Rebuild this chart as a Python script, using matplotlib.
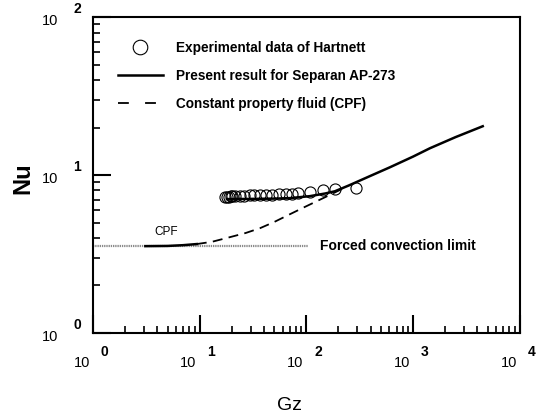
import matplotlib
matplotlib.use('Agg')
import matplotlib.pyplot as plt
from matplotlib.ticker import LogLocator, NullFormatter
from matplotlib.lines import Line2D

# experimental data (Hartnett)
exp_gz = [17.3, 18.0, 18.7, 19.5, 20.3, 21.3, 23.7, 26.3, 29.5, 32.5, 36.6,
          41.7, 47.6, 55.4, 64.3, 73.3, 83.4, 108, 142, 185, 290]
exp_nu = [7.3, 7.3, 7.32, 7.34, 7.36, 7.38, 7.4, 7.42, 7.44, 7.46, 7.48,
          7.5, 7.52, 7.55, 7.58, 7.62, 7.66, 7.8, 8.0, 8.15, 8.27]

# present result for Separan AP-273
sep_gz = [18, 30, 50, 70, 108, 150, 185, 250, 400, 605, 1000, 1440, 2500, 4500]
sep_nu = [7.05, 7.07, 7.1, 7.15, 7.36, 7.65, 7.9, 8.6, 9.9, 11.2, 13.1, 14.8, 17.4, 20.4]

# constant property fluid
cpf_gz = [3.1, 5.0, 7.0, 9.4, 13, 18, 27, 37, 50, 70, 95, 126, 170, 230]
cpf_nu = [3.55, 3.56, 3.6, 3.66, 3.78, 4.0, 4.3, 4.62, 5.05, 5.65, 6.25, 6.85, 7.55, 8.35]
cpf_solid_n = 4

# forced convection limit
fcl_gz = [1.0, 103]
fcl_nu = [3.55, 3.55]

dec_x = [0, 1, 2, 3, 4]
dec_y = [0, 1, 2]

font = 'Liberation Sans'

fig = plt.figure(figsize=(5.5, 4.18), dpi=100)
ax = fig.add_axes([0.169, 0.2033, 0.776, 0.7555])

ax.plot(fcl_gz, fcl_nu, color='#8a8a8a', lw=1.6, linestyle=(0, (0.6, 0.4)), zorder=1)
ax.plot(cpf_gz[:cpf_solid_n], cpf_nu[:cpf_solid_n], color='black', lw=1.8, zorder=2)
ax.plot(cpf_gz[cpf_solid_n - 1:], cpf_nu[cpf_solid_n - 1:], color='black', lw=1.3,
        dashes=(5.5, 3.5), zorder=2)
ax.plot(sep_gz, sep_nu, color='black', lw=1.8, zorder=3)
ax.plot(exp_gz, exp_nu, linestyle='none', marker='o', ms=8, mfc='none', mec='black',
        mew=0.8, zorder=4)

ax.set_xscale('log')
ax.set_yscale('log')
ax.set_xlim(1, 1e4)
ax.set_ylim(1, 100)

for s in ax.spines.values():
    s.set_linewidth(1.5)

ax.xaxis.set_major_locator(LogLocator(base=10))
ax.yaxis.set_major_locator(LogLocator(base=10))
ax.xaxis.set_minor_locator(LogLocator(base=10, subs=range(2, 10)))
ax.yaxis.set_minor_locator(LogLocator(base=10, subs=range(2, 10)))
ax.xaxis.set_major_formatter(NullFormatter())
ax.yaxis.set_major_formatter(NullFormatter())
ax.xaxis.set_minor_formatter(NullFormatter())
ax.yaxis.set_minor_formatter(NullFormatter())
ax.tick_params(which='major', direction='in', length=13, width=1.5, top=False, right=False)
ax.tick_params(which='minor', direction='in', length=5, width=1.2, top=False, right=False)

# tick labels drawn as "10" plus a detached exponent
for k in dec_x:
    ax.annotate('10', xy=(10 ** k, 0), xycoords=('data', 'axes fraction'),
                xytext=(-8, -21.5), textcoords='offset points', ha='center', va='center',
                family=font, fontsize=10.5)
    ax.annotate(str(k), xy=(10 ** k, 0), xycoords=('data', 'axes fraction'),
                xytext=(8.5, -14), textcoords='offset points', ha='center', va='center',
                family=font, fontsize=10, fontweight='bold')
for k in dec_y:
    ax.annotate('10', xy=(0, 10 ** k), xycoords=('axes fraction', 'data'),
                xytext=(-31, -3), textcoords='offset points', ha='center', va='center',
                family=font, fontsize=10.5)
    ax.annotate(str(k), xy=(0, 10 ** k), xycoords=('axes fraction', 'data'),
                xytext=(-11.5, 6), textcoords='offset points', ha='center', va='center',
                family=font, fontsize=10, fontweight='bold')

fig.text(23 / 550, 1 - 178 / 418, 'Nu', rotation=90, ha='center', va='center',
         family=font, fontsize=17, fontweight='bold')
fig.text(290 / 550, 1 - 405 / 418, 'Gz', ha='center', va='center',
         family=font, fontsize=14)

ax.text(134, 3.55, 'Forced convection limit', ha='left', va='center',
        family=font, fontsize=10, fontweight='bold')
ax.text(3.8, 4.0, 'CPF', ha='left', va='bottom', family=font, fontsize=8.5)

handles = [
    Line2D([], [], linestyle='none', marker='o', ms=10.5, mfc='none', mec='black', mew=0.8),
    Line2D([], [], color='black', lw=1.8),
    Line2D([], [], color='black', lw=1.3, dashes=(6, 9)),
]
labels = ['Experimental data of Hartnett', 'Present result for Separan AP-273',
          'Constant property fluid (CPF)']
ax.legend(handles, labels, loc='upper left', bbox_to_anchor=(0.045, 0.943),
          borderaxespad=0, frameon=False, handlelength=3.3, handletextpad=1.0,
          labelspacing=1.05, prop={'family': font, 'size': 9.8, 'weight': 'bold'})

fig.savefig('out.png', dpi=100)
